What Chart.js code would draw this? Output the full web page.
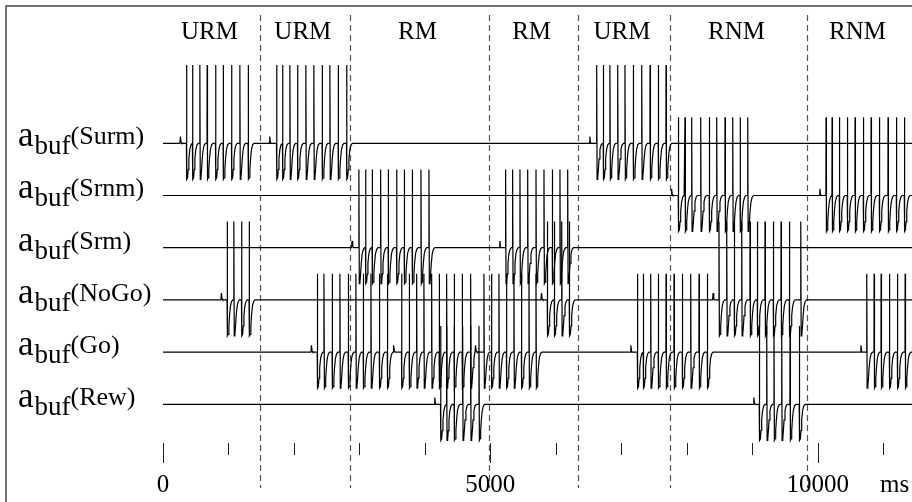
<!DOCTYPE html>
<html>
<head>
<meta charset="utf-8">
<script src="https://cdn.jsdelivr.net/npm/chart.js@4.4.0/dist/chart.umd.min.js"></script>
<style>
  html, body { margin: 0; padding: 0; background: #fff; }
  #wrap { width: 912px; height: 502px; }
</style>
</head>
<body>
<div id="wrap"><canvas id="spikeChart" width="912" height="502"></canvas></div>
<script>
// --- values (times in ms) ---
const rowNames = ['Surm', 'Srnm', 'Srm', 'NoGo', 'Go', 'Rew'];

const surmSpikes = [357, 449, 561, 672, 801, 917, 1045, 1172, 1299,
  1733, 1824, 1936, 2053, 2180, 2302, 2429, 2547, 2674, 2802,
  6622, 6723, 6825, 6943, 7054, 7181, 7310, 7437, 7563, 7681];
const srnmSpikes = [7869, 7971, 8073, 8211, 8342, 8455, 8582, 8700, 8813, 8929,
  10125, 10217, 10329, 10451, 10568, 10695, 10813, 10940, 11072, 11200, 11322];
const srmSpikes = [2990, 3092, 3193, 3322, 3438, 3566, 3683, 3805, 3938, 4060,
  5231, 5338, 5450, 5568, 5695, 5817, 5944, 6061, 6179];
const nogoSpikes = [978, 1080, 1198, 1314,
  5868, 5975, 6088, 6204,
  8490, 8608, 8724, 8837, 8964, 9076, 9193, 9320, 9438, 9565, 9739];
const goSpikes = [2355, 2457, 2582, 2700, 2828, 2944, 3057, 3174, 3303, 3425,
  3642, 3759, 3872, 3983, 4101, 4217, 4330, 4446, 4568, 4697,
  4900, 5015, 5129, 5244, 5358, 5473, 5588, 5695,
  7244, 7334, 7447, 7563, 7681, 7803, 7930, 8058, 8185, 8312,
  10747, 10859, 10966, 11093, 11215, 11333];
const rewSpikes = [4238, 4330, 4446, 4575, 4697, 4824,
  9106, 9219, 9330, 9448, 9575, 9717];

// small depolarisation bumps just before a burst
const surmBumps = [266, 1630, 6519];
const srnmBumps = [7768, 10033];
const srmBumps = [2888, 5144];
const nogoBumps = [892, 5781, 8402];
const goBumps = [2267, 3525, 4773, 7146, 10660];
const rewBumps = [4151, 9025];

const trialLabels = ['URM', 'URM', 'RM', 'RM', 'URM', 'RNM', 'RNM'];
const trialBounds = [1479, 2854, 4981, 6341, 7742, 9839];

const xTicks = [0, 1000, 2000, 3000, 4000, 5000, 6000, 7000, 8000, 9000, 10000, 11000];
const xTickLabels = [0, 5000, 10000];
const X_MAX = 11440;

const spikeRows = [surmSpikes, srnmSpikes, srmSpikes, nogoSpikes, goSpikes, rewSpikes];
const bumpRows = [surmBumps, srnmBumps, srmBumps, nogoBumps, goBumps, rewBumps];

// waveform templates: [ms after event, activation in row units]
const SPIKE_SHAPE = [[0, 0], [2, 1.5], [8, -0.69], [18, -0.66], [28, -0.5], [38, -0.3], [52, -0.12], [70, -0.03], [90, 0]];
const BUMP_SHAPE = [[-8, 0], [0, 0.13], [10, 0.02], [20, 0]];

function buildTrace(spikes, bumps, row) {
    const events = spikes.map(t => ({ t, shape: SPIKE_SHAPE }))
        .concat(bumps.map(t => ({ t, shape: BUMP_SHAPE })))
        .sort((a, b) => a.t - b.t);
    const pts = [{ x: 0, y: -row }];
    events.forEach((ev, i) => {
        const next = i + 1 < events.length ? events[i + 1].t - 8 : Infinity;
        ev.shape.forEach(([dt, a]) => {
            if (ev.t + dt < next || dt <= 2) pts.push({ x: ev.t + dt, y: -row + a });
        });
    });
    const last = pts[pts.length - 1].x;
    if (last < X_MAX) pts.push({ x: X_MAX, y: -row });
    return pts;
}

const SERIF = '"Liberation Serif", "Times New Roman", serif';

const figureDecor = {
    id: 'figureDecor',
    beforeDatasetsDraw(chart) {
        const { ctx } = chart;
        const xs = chart.scales.x;
        ctx.save();
        // outer frame (only top and left edges fall inside the picture)
        ctx.strokeStyle = '#444';
        ctx.lineWidth = 1.5;
        ctx.strokeRect(6, 6, 1200, 1200);
        // trial boundaries
        ctx.setLineDash([6, 4]);
        ctx.strokeStyle = '#555';
        ctx.lineWidth = 1.2;
        trialBounds.forEach(t => {
            const x = Math.round(xs.getPixelForValue(t)) + 0.5;
            ctx.beginPath();
            ctx.moveTo(x, 15);
            ctx.lineTo(x, 488);
            ctx.stroke();
        });
        ctx.restore();
    },
    afterDraw(chart) {
        const { ctx } = chart;
        const xs = chart.scales.x, ys = chart.scales.y;
        ctx.save();
        ctx.fillStyle = '#000';
        ctx.textBaseline = 'alphabetic';

        // trial type labels, centred in each trial
        ctx.font = '25px ' + SERIF;
        ctx.textAlign = 'center';
        const edges = [0].concat(trialBounds, [X_MAX]);
        trialLabels.forEach((lab, i) => {
            const x = (xs.getPixelForValue(edges[i]) + xs.getPixelForValue(edges[i + 1])) / 2;
            ctx.fillText(lab, x - 2, 38.5);
        });

        // row labels a_buf(name)
        ctx.textAlign = 'left';
        rowNames.forEach((name, i) => {
            const yb = ys.getPixelForValue(-i);
            let x = 18;
            ctx.font = '35px ' + SERIF;
            ctx.fillText('a', x, yb + 3);
            x += ctx.measureText('a').width + 1;
            ctx.font = '27px ' + SERIF;
            ctx.fillText('buf', x, yb + 11);
            x += ctx.measureText('buf').width;
            ctx.font = '26px ' + SERIF;
            ctx.fillText('(' + name + ')', x, yb + 1);
        });

        // time axis ticks
        ctx.strokeStyle = '#222';
        ctx.lineWidth = 1;
        xTicks.forEach(t => {
            const x = Math.round(xs.getPixelForValue(t)) + 0.5;
            const len = xTickLabels.includes(t) ? 20 : 12;
            ctx.beginPath();
            ctx.moveTo(x, 443);
            ctx.lineTo(x, 443 + len);
            ctx.stroke();
        });
        ctx.font = '25px ' + SERIF;
        ctx.textAlign = 'center';
        xTickLabels.forEach(t => ctx.fillText(String(t), xs.getPixelForValue(t), 492));
        ctx.textAlign = 'left';
        ctx.fillText('ms', 880, 492);
        ctx.restore();
    }
};

const datasets = rowNames.map((name, i) => ({
    label: 'a_buf(' + name + ')',
    data: buildTrace(spikeRows[i], bumpRows[i], i),
    borderColor: '#000',
    borderWidth: 1.2,
    pointRadius: 0,
    tension: 0,
    fill: false
}));

new Chart(document.getElementById('spikeChart').getContext('2d'), {
    type: 'line',
    data: { datasets },
    options: {
        responsive: false,
        animation: false,
        layout: { padding: { left: 163, right: 0, top: 0, bottom: 0 } },
        scales: {
            x: { type: 'linear', min: 0, max: X_MAX, display: false },
            y: { type: 'linear', min: -6.872, max: 2.745, display: false }
        },
        plugins: { legend: { display: false }, tooltip: { enabled: false } }
    },
    plugins: [figureDecor]
});
</script>
</body>
</html>
